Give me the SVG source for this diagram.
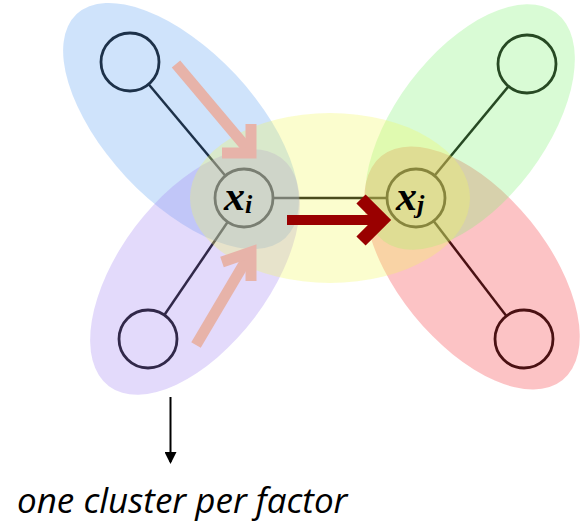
<svg xmlns="http://www.w3.org/2000/svg" width="585" height="522" viewBox="0 0 585 522">
<style>
.edge{stroke:#000;stroke-width:2.5;fill:none}
.node{stroke:#000;stroke-width:2.8;fill:#fff}
.cl{opacity:0.3}
.lbl{font-family:"Liberation Serif",serif;font-style:italic;font-weight:bold;fill:#000}
.pink{stroke:#e7b3a9;stroke-width:11;fill:none;stroke-linejoin:miter;stroke-linecap:butt}
.red{stroke:#990000;fill:none;stroke-linejoin:miter;stroke-linecap:butt}
</style>
<defs>
<marker id="ah" markerWidth="6" markerHeight="6" refX="5" refY="3" orient="auto" markerUnits="strokeWidth">
<path d="M0,0 L6,3 L0,6 Z" fill="#000"/>
</marker>
</defs>
<g id="connectors">
<line class="edge" x1="130" y1="62" x2="244" y2="198"/>
<line class="edge" x1="148" y1="339" x2="244" y2="198"/>
<line class="edge" x1="244" y1="198" x2="416" y2="198"/>
<line class="edge" x1="527" y1="64" x2="416" y2="198"/>
<line class="edge" x1="524" y1="339" x2="416" y2="198"/>
</g>
<g id="n_tl"><circle class="node" cx="130" cy="62" r="29"/></g>
<g id="n_bl"><circle class="node" cx="148" cy="339" r="29"/></g>
<g id="n_tr"><circle class="node" cx="527" cy="64" r="29"/></g>
<g id="n_br"><circle class="node" cx="524" cy="339" r="29"/></g>
<g id="n_xi"><circle class="node" cx="244" cy="198" r="29"/></g>
<g id="n_xj"><circle class="node" cx="416" cy="198" r="29"/></g>
<g id="clusters">
<ellipse class="cl" fill="#5fa2f2" cx="181" cy="126" rx="153" ry="75" transform="rotate(47 181 126)"/>
<ellipse class="cl" fill="#a284f2" cx="195" cy="272" rx="143" ry="75" transform="rotate(-53 195 272)"/>
<ellipse class="cl" fill="#f5393f" cx="472" cy="268" rx="144" ry="75" transform="rotate(51 472 268)"/>
<ellipse class="cl" fill="#80f273" cx="470" cy="127" rx="143" ry="75" transform="rotate(-53 470 127)"/>
<ellipse class="cl" fill="#f2f85d" cx="330" cy="198" rx="140" ry="85"/>
</g>
<g id="labels">
<text class="lbl" x="224" y="210" font-size="42">x<tspan font-size="26" dy="3">i</tspan></text>
<text class="lbl" x="396" y="210" font-size="42">x<tspan font-size="26" dy="3">j</tspan></text>
</g>
<g id="flow">
<line class="pink" x1="176" y1="64" x2="251" y2="153"/>
<polyline class="pink" points="251,124 251,153 222,153"/>
<line class="pink" x1="196" y1="345" x2="251" y2="252"/>
<polyline class="pink" points="222,262 251,252 251,281"/>
<line class="red" stroke-width="10" x1="287" y1="220" x2="378" y2="220"/>
<polyline class="red" stroke-width="13" points="361,199 382,220 361,241"/>
</g>
<g id="note">
<line x1="170.5" y1="397" x2="170.5" y2="462" stroke="#000" stroke-width="2" marker-end="url(#ah)"/>
<text x="17" y="513" font-family="'Open Sans','Noto Sans',sans-serif" font-style="italic" font-size="35" fill="#000">one cluster per factor</text>
</g>
</svg>
